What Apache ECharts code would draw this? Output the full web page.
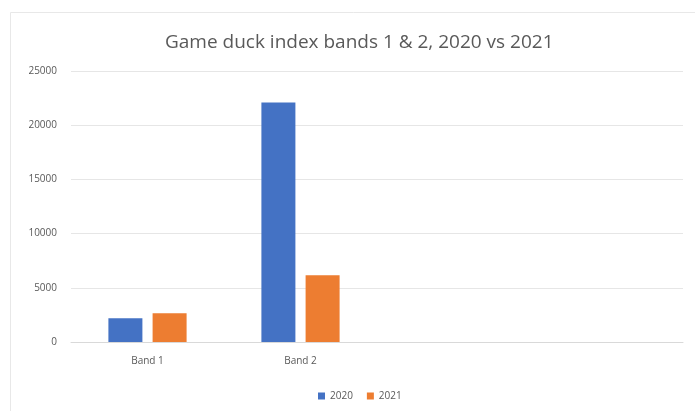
<!DOCTYPE html>
<html>
<head>
<meta charset="utf-8">
<script src="https://cdn.jsdelivr.net/npm/echarts@6/dist/echarts.min.js"></script>
<style>
  html, body { margin: 0; padding: 0; background: #fff; }
  #chart { width: 695px; height: 411px; }
</style>
</head>
<body>
<div id="chart"></div>
<script>
// bands on the x axis (the two empty slots are blank in the original)
const categories = ['Band 1', 'Band 2', '', ''];
const values2020 = [2200, 22100, null, null];
const values2021 = [2650, 6150, null, null];
const yTicks = [0, 5000, 10000, 15000, 20000, 25000];

const myChart = echarts.init(document.getElementById('chart'));

const option = {
    backgroundColor: '#fff',
    animation: false,
    textStyle: { fontFamily: 'Open Sans, sans-serif' },
    graphic: [{
        type: 'rect',
        shape: { x: 10.5, y: 12.5, width: 700, height: 420 },
        style: { fill: 'none', stroke: '#e8e8e8', lineWidth: 1 },
        silent: true
    }],
    title: {
        text: 'Game duck index bands 1 & 2, 2020 vs 2021',
        left: 160,
        top: 28,
        textStyle: {
            fontSize: 19,
            fontWeight: 'normal',
            color: '#595959'
        }
    },
    grid: {
        left: 71,
        right: 12,
        top: 71,
        bottom: 69
    },
    legend: {
        data: ['2020', '2021'],
        top: 386,
        left: 313,
        itemWidth: 7,
        itemHeight: 7,
        itemGap: 14,
        icon: 'rect',
        textStyle: { fontSize: 10, color: '#595959' }
    },
    xAxis: {
        type: 'category',
        data: categories,
        axisLine: { lineStyle: { color: '#d9d9d9' } },
        axisTick: { show: false },
        axisLabel: { fontSize: 10, color: '#595959', margin: 14 },
        splitLine: { show: false }
    },
    yAxis: {
        type: 'value',
        min: yTicks[0],
        max: yTicks[yTicks.length - 1],
        interval: 5000,
        axisLine: { show: false },
        axisTick: { show: false },
        axisLabel: {
            fontSize: 10,
            color: '#595959',
            margin: 14,
            formatter: v => String(v)
        },
        splitLine: { lineStyle: { color: '#e6e6e6' } }
    },
    series: [{
        name: '2020',
        type: 'bar',
        data: values2020,
        barWidth: 34,
        barGap: '30%',
        itemStyle: { color: '#4472C4' }
    }, {
        name: '2021',
        type: 'bar',
        data: values2021,
        barWidth: 34,
        itemStyle: { color: '#ED7D31' }
    }]
};
option && myChart.setOption(option);
</script>
</body>
</html>
